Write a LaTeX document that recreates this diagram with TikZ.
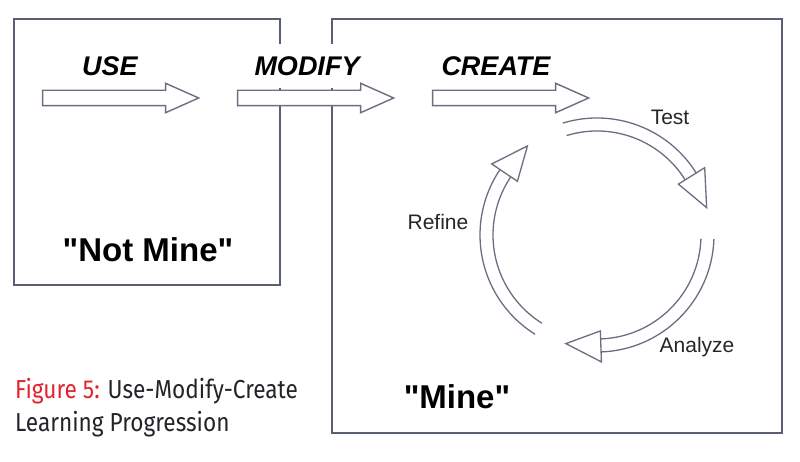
\documentclass[tikz,border=0pt]{standalone}
\usepackage{fontspec}
\setmainfont{Liberation Sans}
\newfontfamily\captionfont[FakeStretch=0.87]{Fira Sans}
\usepackage{tikz}
\usetikzlibrary{shapes.arrows, positioning}

\definecolor{framegray}{RGB}{90,96,115}
\definecolor{arrowgray}{RGB}{105,110,128}
\definecolor{figred}{RGB}{226,35,45}
\definecolor{captext}{RGB}{35,35,40}

\begin{document}
\begin{tikzpicture} [x=1pt, y=1pt, node distance = 195pt, on grid,
  frame/.style={draw=framegray, line width=2pt},
  blockarrow/.style={single arrow, draw=arrowgray, line width=1.4pt, fill=white, minimum height=156pt, inner xsep=0pt, inner ysep=7pt, single arrow head extend=7pt, single arrow tip angle=48},
  stage/.style={font=\fontsize{27}{30}\selectfont\bfseries\itshape, inner sep=0pt},
  owner/.style={font=\fontsize{33}{36}\selectfont\bfseries},
  cycleline/.style={draw=arrowgray, line width=1.3pt},
  steplabel/.style={font=\fontsize{21}{24}\selectfont, text=black!85},
  caption/.style={font=\captionfont\fontsize{26}{33}\selectfont, text=captext, inner sep=0pt}]
\useasboundingbox (0,0) rectangle (800,462);
% the two boxes
\draw [frame] (14,443) rectangle (280,177);
\draw [frame] (332,443) rectangle (782,29);
% block arrows
\node (usearrow) [blockarrow] at (112,364) {};
\node (modifyarrow) [blockarrow, right = of usearrow] {};
\node (createarrow) [blockarrow, right = of modifyarrow] {};
\node (uselabel) [stage, above left = 32pt and 2pt of usearrow] {USE};
\node (modifylabel) [stage, fill=white, minimum height=44pt, above = 32pt of modifyarrow] {MODIFY};
\node (createlabel) [stage, above left = 32pt and 6pt of createarrow] {CREATE};
\node (notmine) [owner] at (148,212) {\textquotedbl Not Mine\textquotedbl};
\node (mine) [owner] at (457,65) {\textquotedbl Mine\textquotedbl};
% cycle
\coordinate (cyc) at (597,227);
\begin{scope}[shift={(cyc)}]
\foreach \s/\b in {107/32, -2/-88, 238/146} {
  \draw [cycleline] (\s:117) arc [start angle=\s, end angle=\b, radius=117];
  \draw [cycleline] (\s:104) arc [start angle=\s, end angle=\b, radius=104];
  \draw [cycleline, fill=white] (\b:127) -- ({\b-18}:113) -- (\b:96) -- cycle;
}
\end{scope}
\node (test) [steplabel] at (670,345) {Test};
\node (refine) [steplabel] at (438,240) {Refine};
\node (analyze) [steplabel] at (697,115) {Analyze};
% caption
\node (caption1) [caption, anchor=base west] at (15,63) {\textcolor{figred}{Figure 5:} Use-Modify-Create};
\node (caption2) [caption, anchor=base west] at ([yshift=-33pt]caption1.base west) {Learning Progression};
\end{tikzpicture}
\end{document}
